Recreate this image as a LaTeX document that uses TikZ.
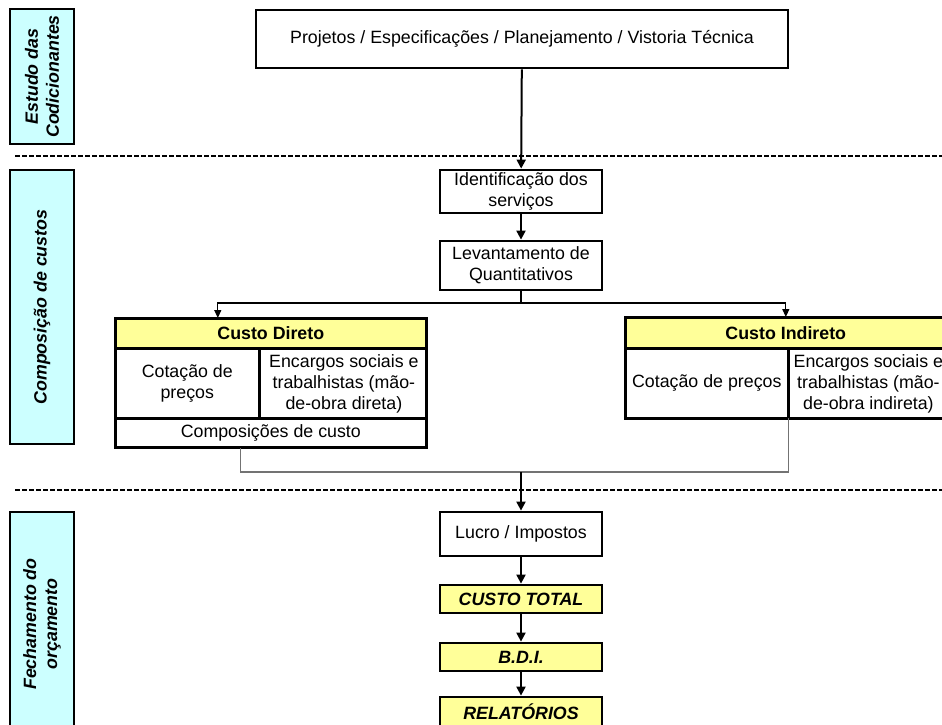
\documentclass[tikz,border=0pt]{standalone}
\usepackage{fontspec}
\setmainfont{Liberation Sans}
\usetikzlibrary{positioning,arrows.meta}
\definecolor{stagecyan}{HTML}{CCFFFF}
\definecolor{costyellow}{HTML}{FFFF99}

\begin{document}
\begin{tikzpicture}[
        x=1pt, y=-1pt,
        node distance = 74pt,
        font=\fontsize{17.8}{21}\selectfont,
        box/.style={draw=black, line width=2.8pt, fill=white, minimum width=162pt, align=center, inner sep=0pt},
        total/.style={box, fill=costyellow, minimum height=28pt, font=\fontsize{17.8}{21}\selectfont\bfseries\itshape},
        stage/.style={draw=black, line width=2.8pt, fill=stagecyan, rotate=90, minimum height=64pt, align=center, inner sep=0pt, font=\fontsize{17.8}{21}\selectfont\bfseries\itshape},
        cell/.style={draw=black, line width=1.6pt, fill=white, align=center, inner sep=0pt, anchor=north west},
        head/.style={cell, fill=costyellow, font=\fontsize{17.8}{21}\selectfont\bfseries},
        frame/.style={draw=black, line width=2.8pt},
        arrow/.style={-{Triangle[length=9pt,width=9pt]}, line width=2pt},
        thinarrow/.style={-{Triangle[length=8pt,width=7pt]}, line width=1.2pt},
        mergeline/.style={line width=1.2pt, draw=black!55},
        sep/.style={line width=1.6pt, dash pattern=on 4.5pt off 2.5pt}]

        \useasboundingbox (0,0) rectangle (942,724);

        % STAGES
        \node[stage, minimum width=135pt] (stageA) at (42,76.5) {Estudo das\\Codicionantes};
        \node[stage, minimum width=274pt] (stageB) at (42,307) {Composição de custos};
        \node[stage, minimum width=224pt] (stageC) at (42,624) {Fechamento do\\orçamento};

        % separators
        \coordinate (sepA1) at (15,156);
        \coordinate (sepA2) at (942,156);
        \coordinate (sepB1) at (15,490);
        \coordinate (sepB2) at (942,490);
        \draw[sep] (sepA1) -- (sepA2);
        \draw[sep] (sepB1) -- (sepB2);

        % NODES
        \node[box, minimum width=532pt, minimum height=58pt] (projetos) at (522,39) {Projetos / Especificações / Planejamento / Vistoria Técnica};
        \node[box, minimum height=43pt] (ident) at (521,191.5) {Identificação dos\\serviços};
        \node[box, minimum height=49pt, below of = ident] (levant) {Levantamento de\\Quantitativos};

        % custo direto
        \node[head, minimum width=310pt, minimum height=29pt] (cdHead) at (115,318) {Custo Direto};
        \node[cell, minimum width=143pt, minimum height=68pt] (cdPreco) at (cdHead.south west) {Cotação de\\preços};
        \node[cell, minimum width=167pt, minimum height=68pt] (cdEnc) at (cdPreco.north east) {Encargos sociais e\\trabalhistas (mão-\\de-obra direta)};
        \node[cell, minimum width=310pt, minimum height=28pt] (cdComp) at (cdPreco.south west) {Composições de custo};
        \draw[frame] (cdHead.north west) rectangle (cdComp.south east);

        % custo indireto
        \node[head, minimum width=320pt, minimum height=30pt] (ciHead) at (625,317) {Custo Indireto};
        \node[cell, minimum width=162pt, minimum height=68pt] (ciPreco) at (ciHead.south west) {Cotação de preços};
        \node[cell, minimum width=158pt, minimum height=68pt] (ciEnc) at (ciPreco.north east) {Encargos sociais e\\trabalhistas (mão-\\de-obra indireta)};
        \draw[frame] (ciHead.north west) rectangle (ciEnc.south east);

        % fechamento
        \node[box, minimum height=44pt] (lucro) at (521,534) {Lucro / Impostos};
        \node[total, below of = lucro, node distance = 65pt] (custoTotal) {CUSTO TOTAL};
        \node[total, below of = custoTotal, node distance = 58pt] (bdi) {B.D.I.};
        \node[total, minimum height=30pt, below of = bdi, node distance = 55pt] (relat) {RELATÓRIOS};

        \coordinate (split) at (521,303);
        \coordinate (merge) at (521,472);

        % ARROWS
        \draw[arrow] (projetos) -- (ident);
        \draw[arrow] (ident) -- (levant);
        \draw[line width=1.2pt] (levant) -- (split);
        \draw[thinarrow] (split) -| ([xshift=-53pt]cdHead.north);
        \draw[thinarrow] (split) -| (ciHead.north);
        \draw[mergeline] ([xshift=-30pt]cdComp.south) |- (merge);
        \draw[mergeline] (ciPreco.south east) |- (merge);
        \draw[arrow] (merge) -- (lucro);
        \draw[arrow] (lucro) -- (custoTotal);
        \draw[arrow] (custoTotal) -- (bdi);
        \draw[arrow] (bdi) -- (relat);
\end{tikzpicture}
\end{document}
